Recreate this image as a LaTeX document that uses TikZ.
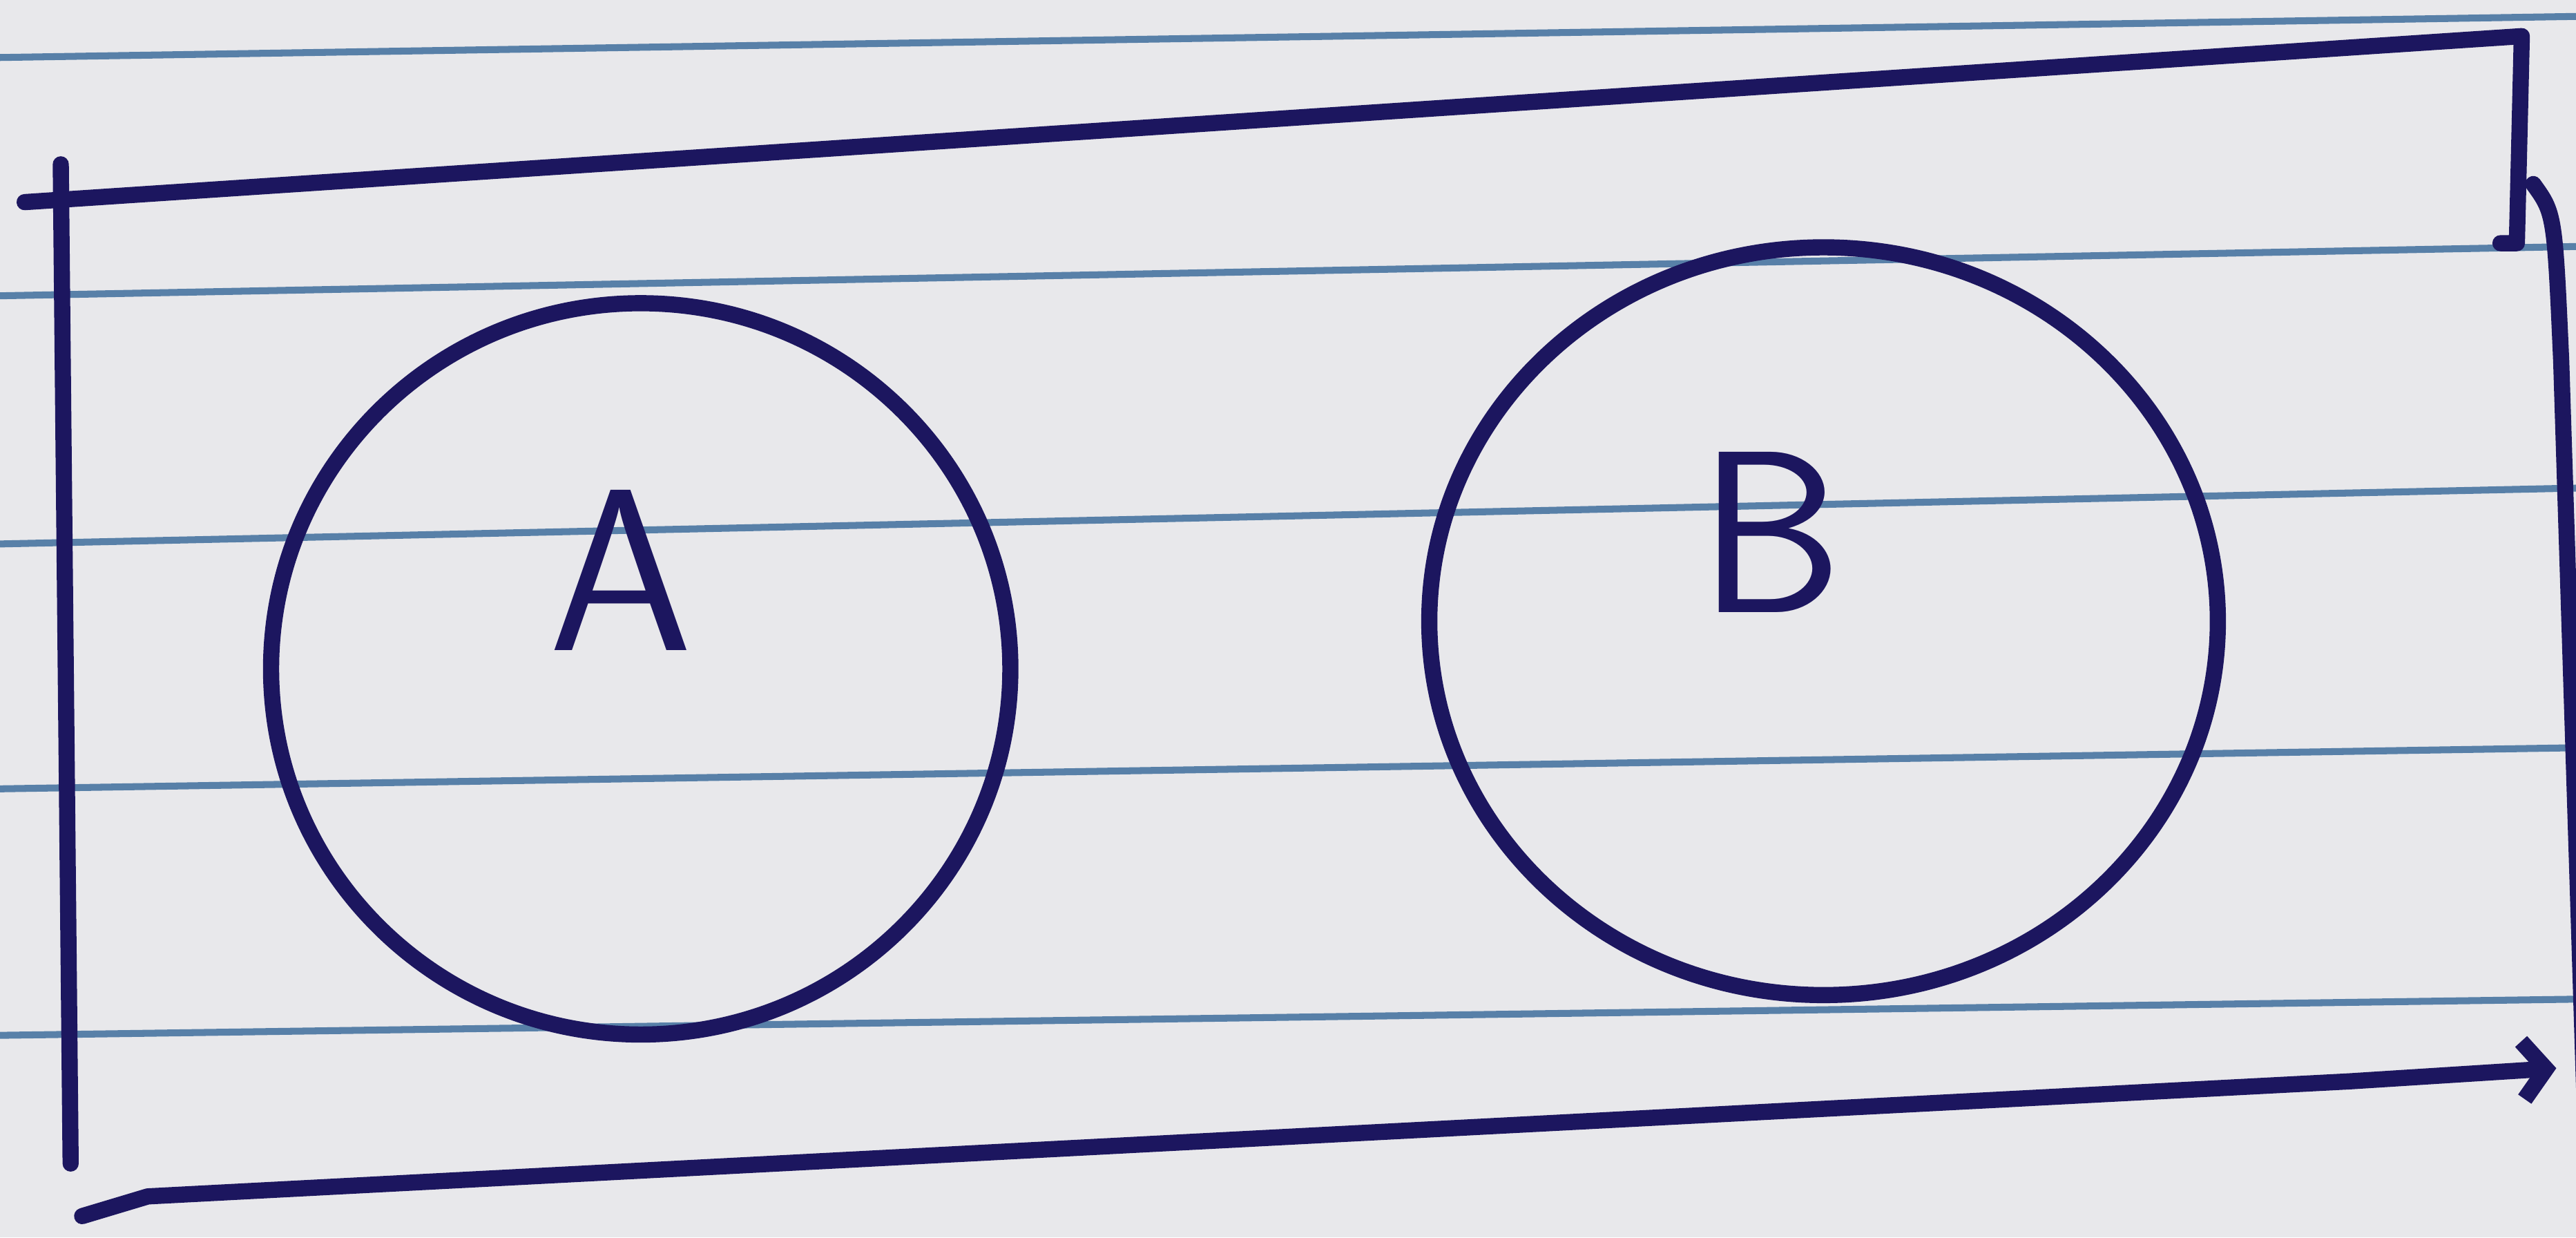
\documentclass[tikz,border=0pt]{standalone}
\usepackage{xcolor}
\usepackage{tikz}
\usetikzlibrary{arrows.meta, positioning, shapes.geometric}

\definecolor{paper}{RGB}{232,232,235}
\definecolor{ink}{RGB}{28,22,95}
\definecolor{ruling}{RGB}{88,128,168}

\begin{document}
\begin{tikzpicture}[x=0.1mm, y=-0.1mm,
    pen/.style={draw=ink, line width=2.8pt, line cap=round, line join=round},
    rule/.style={draw=ruling, line width=1.2pt},
    setcirc/.style={pen, ellipse, inner sep=0pt},
    setlabel/.style={text=ink, font=\fontsize{40}{44}\selectfont\sffamily}]
    \useasboundingbox (0,0) rectangle (1568,753);
    \clip (0,0) rectangle (1568,753);
    \fill[paper] (0,0) rectangle (1568,753);

    % ruled paper
    \foreach \yl/\yr in {35/10, 180/150, 331/297, 480/455, 630/608}
        \draw[rule] (0,\yl) -- (1568,\yr);

    % universal set (hand drawn box)
    \draw[pen] (37,100) -- (43,708);
    \draw[pen] (15,123) -- (1535,22) -- (1532,148) -- (1522,148);
    \draw[pen] (1542,112) .. controls (1555,130) .. (1559,220) -- (1576,760);
    \draw[pen, -{Straight Barb[length=4pt, width=10pt]}]
        (50,740) -- (90,728) -- (1430,658) -- (1556,650);

    % sets
    \node[setcirc, minimum width=45mm, minimum height=44.5mm] (circA) at (390,407) {};
    \node[setcirc, minimum width=48mm, minimum height=45.5mm] (circB) at (1110,378) {};

    \node[setlabel] (labA) at (378,347) {A};
    \node[setlabel] (labB) at (1078,324) {B};
\end{tikzpicture}
\end{document}
